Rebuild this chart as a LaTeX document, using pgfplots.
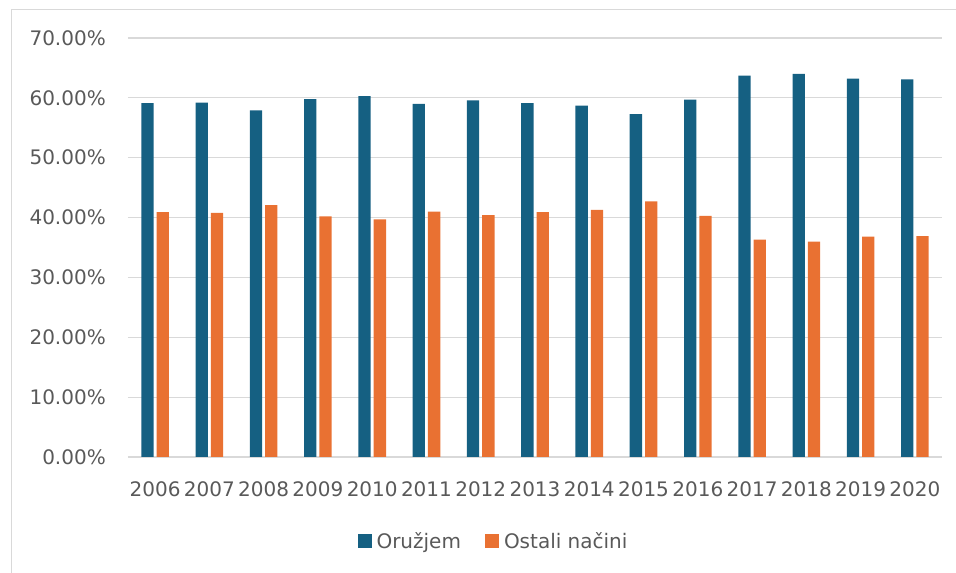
\documentclass[border=0pt]{standalone}
\usepackage{pgfplots}
\pgfplotsset{compat=1.18}
\usepackage{fontspec}
\setmainfont{DejaVu Sans}
\definecolor{cblue}{HTML}{156082}
\definecolor{corange}{HTML}{E97132}
\definecolor{ctext}{HTML}{595959}
\definecolor{cgrid}{HTML}{D9D9D9}
\begin{document}
\begin{tikzpicture}[x=1pt,y=1pt]
\useasboundingbox (0,0) rectangle (956,573);
\draw[cgrid, line width=1pt] (11,0) -- (11,563.5) -- (956,563.5);
\begin{axis}[
  at={(128pt,116pt)}, anchor=south west,
  scale only axis, width=814pt, height=419pt,
  ybar, bar width=12.3pt, ybar=3pt,
  xmin=-0.5, xmax=14.5, ymin=0, ymax=70,
  xtick={0,...,14},
  xticklabels={2006,2007,2008,2009,2010,2011,2012,2013,2014,2015,2016,2017,2018,2019,2020},
  ytick={0,10,20,30,40,50,60,70},
  yticklabels={0.00\%,10.00\%,20.00\%,30.00\%,40.00\%,50.00\%,60.00\%,70.00\%},
  major tick length=0pt,
  axis lines*=left,
  x axis line style={cgrid, line width=1.2pt},
  y axis line style={draw=none},
  ymajorgrids, grid style={cgrid, line width=1.2pt},
  yticklabel style={text=ctext, font=\fontsize{20}{20}\selectfont, inner sep=0pt, xshift=-22pt},
  xticklabel style={text=ctext, font=\fontsize{20}{20}\selectfont, inner sep=0pt, yshift=-24pt},
  legend style={at={(0.449,-0.2)}, anchor=center, draw=none, fill=none,
    legend columns=2, font=\fontsize{20}{20}\selectfont, text=ctext,
    /tikz/every even column/.append style={column sep=22pt}},
  legend image code/.code={\fill[#1] (0pt,-7pt) rectangle (14pt,7pt); \path (17pt,0pt);},
]
\addplot[fill=cblue, draw=none] coordinates {
(0,59.1) (1,59.2) (2,57.9) (3,59.8) (4,60.3) (5,59.0) (6,59.6) (7,59.1)
(8,58.7) (9,57.3) (10,59.7) (11,63.7) (12,64.0) (13,63.2) (14,63.1)};
\addlegendentry{Oružjem}
\addplot[fill=corange, draw=none] coordinates {
(0,40.9) (1,40.8) (2,42.1) (3,40.2) (4,39.7) (5,41.0) (6,40.4) (7,40.9)
(8,41.3) (9,42.7) (10,40.3) (11,36.3) (12,36.0) (13,36.8) (14,36.9)};
\addlegendentry{Ostali načini}
\end{axis}
\end{tikzpicture}
\end{document}
